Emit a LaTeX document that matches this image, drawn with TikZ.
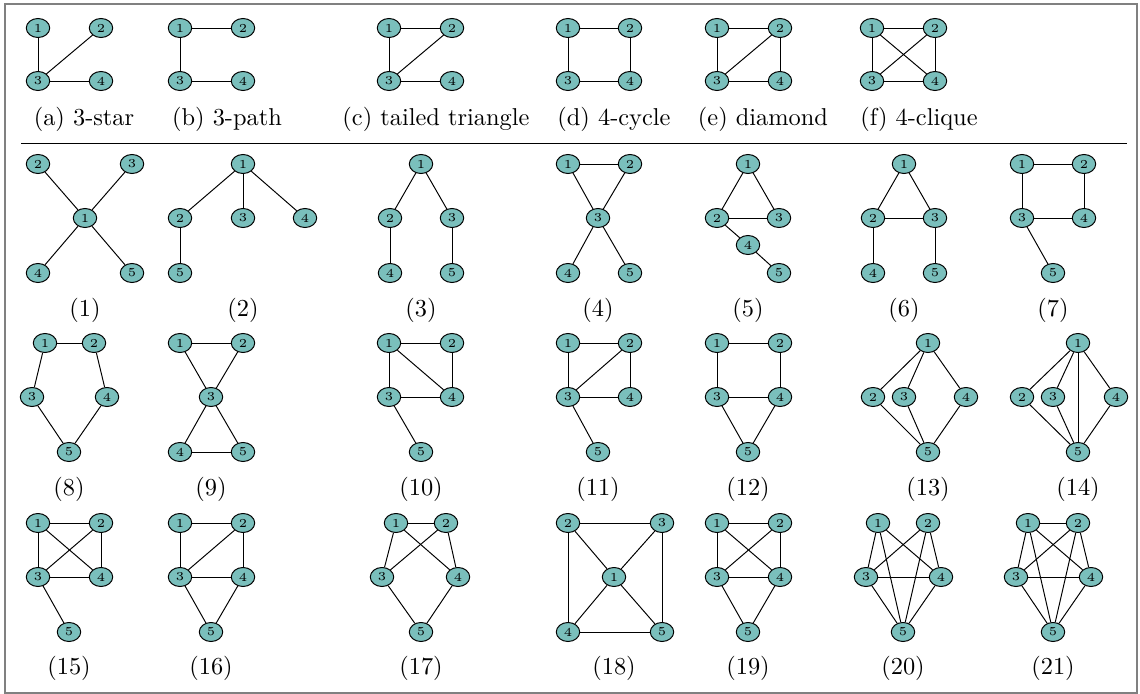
\documentclass[tikz,border=0pt]{standalone}
\usepackage{tikz}
\usetikzlibrary{shapes.geometric}
\definecolor{vteal}{RGB}{122,191,188}
\tikzset{vtx/.style={ellipse,draw,fill=vteal,inner sep=0pt,minimum width=9.6pt,minimum height=7.8pt,font=\tiny},
capt/.style={font=\normalsize}}
\begin{document}
\begin{tikzpicture}[x=0.41pt,y=-0.41pt]
\useasboundingbox (0,0) rectangle (1140,694);
\draw[gray,line width=0.6pt] (5,4) rectangle (1137,693);
\coordinate (ruleL) at (21,143);
\coordinate (ruleR) at (1127,143);
\draw (ruleL) -- (ruleR);
% motifs of size 4
\foreach \n/\x/\y in {1/38/28,2/101/28,3/38/81,4/101/81} \node[vtx] (a\n) at (\x,\y) {\n};
\path (a1) edge (a3) (a2) edge (a3) (a3) edge (a4);
\node[capt] (capa) at (84,119) {(a) 3-star};
\foreach \n/\x/\y in {1/180/28,2/243/28,3/180/81,4/243/81} \node[vtx] (b\n) at (\x,\y) {\n};
\path (b1) edge (b2) (b1) edge (b3) (b3) edge (b4);
\node[capt] (capb) at (227,119) {(b) 3-path};
\foreach \n/\x/\y in {1/389/28,2/452/28,3/389/81,4/452/81} \node[vtx] (c\n) at (\x,\y) {\n};
\path (c1) edge (c2) (c1) edge (c3) (c2) edge (c3) (c3) edge (c4);
\node[capt] (capc) at (436,119) {(c) tailed triangle};
\foreach \n/\x/\y in {1/568/28,2/630/28,3/568/81,4/630/81} \node[vtx] (d\n) at (\x,\y) {\n};
\path (d1) edge (d2) (d1) edge (d3) (d2) edge (d4) (d3) edge (d4);
\node[capt] (capd) at (614,119) {(d) 4-cycle};
\foreach \n/\x/\y in {1/717/28,2/780/28,3/717/81,4/780/81} \node[vtx] (e\n) at (\x,\y) {\n};
\path (e1) edge (e2) (e1) edge (e3) (e2) edge (e3) (e2) edge (e4) (e3) edge (e4);
\node[capt] (cape) at (763,119) {(e) diamond};
\foreach \n/\x/\y in {1/872/28,2/935/28,3/872/81,4/935/81} \node[vtx] (f\n) at (\x,\y) {\n};
\path (f1) edge (f2) (f1) edge (f3) (f1) edge (f4) (f2) edge (f3) (f2) edge (f4) (f3) edge (f4);
\node[capt] (capf) at (919,119) {(f) 4-clique};
% motifs of size 5, first row
\foreach \n/\x/\y in {1/85/218,2/38/164,3/132/164,4/38/273,5/132/273} \node[vtx] (p\n) at (\x,\y) {\n};
\path (p1) edge (p2) (p1) edge (p3) (p1) edge (p4) (p1) edge (p5);
\node[capt] (cap1) at (85,310) {(1)};
\foreach \n/\x/\y in {1/243/164,2/180/218,3/243/218,4/305/218,5/180/273} \node[vtx] (q\n) at (\x,\y) {\n};
\path (q1) edge (q2) (q1) edge (q3) (q1) edge (q4) (q2) edge (q5);
\node[capt] (cap2) at (243,310) {(2)};
\foreach \n/\x/\y in {1/421/164,2/390/218,3/452/218,4/390/273,5/452/273} \node[vtx] (r\n) at (\x,\y) {\n};
\path (r1) edge (r2) (r1) edge (r3) (r2) edge (r4) (r3) edge (r5);
\node[capt] (cap3) at (421,310) {(3)};
\foreach \n/\x/\y in {1/568/164,2/630/164,3/598/218,4/568/273,5/630/273} \node[vtx] (s\n) at (\x,\y) {\n};
\path (s1) edge (s2) (s1) edge (s3) (s2) edge (s3) (s3) edge (s4) (s3) edge (s5);
\node[capt] (cap4) at (598,310) {(4)};
\foreach \n/\x/\y in {1/748/164,2/717/218,3/779/218,4/748/245,5/779/273} \node[vtx] (t\n) at (\x,\y) {\n};
\path (t1) edge (t2) (t1) edge (t3) (t2) edge (t3) (t2) edge (t4) (t4) edge (t5);
\node[capt] (cap5) at (748,310) {(5)};
\foreach \n/\x/\y in {1/904/164,2/873/218,3/935/218,4/873/273,5/935/273} \node[vtx] (u\n) at (\x,\y) {\n};
\path (u1) edge (u2) (u1) edge (u3) (u2) edge (u3) (u2) edge (u4) (u3) edge (u5);
\node[capt] (cap6) at (904,310) {(6)};
\foreach \n/\x/\y in {1/1022/164,2/1084/164,3/1022/218,4/1084/218,5/1053/273} \node[vtx] (w\n) at (\x,\y) {\n};
\path (w1) edge (w2) (w1) edge (w3) (w2) edge (w4) (w3) edge (w4) (w3) edge (w5);
\node[capt] (cap7) at (1053,310) {(7)};
% second row
\foreach \n/\x/\y in {1/45/343,2/94/343,3/32/397,4/107/397,5/69/452} \node[vtx] (h\n) at (\x,\y) {\n};
\path (h1) edge (h2) (h1) edge (h3) (h2) edge (h4) (h3) edge (h5) (h4) edge (h5);
\node[capt] (cap8) at (69,489) {(8)};
\foreach \n/\x/\y in {1/180/343,2/243/343,3/211/397,4/180/452,5/243/452} \node[vtx] (i\n) at (\x,\y) {\n};
\path (i1) edge (i2) (i1) edge (i3) (i2) edge (i3) (i3) edge (i4) (i3) edge (i5) (i4) edge (i5);
\node[capt] (cap9) at (211,489) {(9)};
\foreach \n/\x/\y in {1/389/343,2/452/343,3/389/397,4/452/397,5/421/452} \node[vtx] (j\n) at (\x,\y) {\n};
\path (j1) edge (j2) (j1) edge (j3) (j1) edge (j4) (j2) edge (j4) (j3) edge (j4) (j3) edge (j5);
\node[capt] (cap10) at (421,489) {(10)};
\foreach \n/\x/\y in {1/568/343,2/630/343,3/568/397,4/630/397,5/598/452} \node[vtx] (k\n) at (\x,\y) {\n};
\path (k1) edge (k2) (k1) edge (k3) (k2) edge (k3) (k2) edge (k4) (k3) edge (k4) (k3) edge (k5);
\node[capt] (cap11) at (598,489) {(11)};
\foreach \n/\x/\y in {1/717/343,2/780/343,3/717/397,4/780/397,5/748/452} \node[vtx] (l\n) at (\x,\y) {\n};
\path (l1) edge (l2) (l1) edge (l3) (l2) edge (l4) (l3) edge (l4) (l3) edge (l5) (l4) edge (l5);
\node[capt] (cap12) at (748,489) {(12)};
\foreach \n/\x/\y in {1/928/343,2/873/397,3/904/397,4/966/397,5/928/452} \node[vtx] (m\n) at (\x,\y) {\n};
\path (m1) edge (m2) (m1) edge (m3) (m1) edge (m4) (m2) edge (m5) (m3) edge (m5) (m4) edge (m5);
\node[capt] (cap13) at (928,489) {(13)};
\foreach \n/\x/\y in {1/1078/343,2/1022/397,3/1053/397,4/1116/397,5/1078/452} \node[vtx] (n\n) at (\x,\y) {\n};
\path (n1) edge (n2) (n1) edge (n3) (n1) edge (n4) (n1) edge (n5) (n2) edge (n5) (n3) edge (n5) (n4) edge (n5);
\node[capt] (cap14) at (1078,489) {(14)};
% third row
\foreach \n/\x/\y in {1/38/523,2/101/523,3/38/577,4/101/577,5/69/632} \node[vtx] (o\n) at (\x,\y) {\n};
\path (o1) edge (o2) (o1) edge (o3) (o1) edge (o4) (o2) edge (o3) (o2) edge (o4) (o3) edge (o4) (o3) edge (o5);
\node[capt] (cap15) at (69,668) {(15)};
\foreach \n/\x/\y in {1/180/523,2/243/523,3/180/577,4/243/577,5/211/632} \node[vtx] (x\n) at (\x,\y) {\n};
\path (x1) edge (x2) (x1) edge (x3) (x2) edge (x3) (x2) edge (x4) (x3) edge (x4) (x3) edge (x5) (x4) edge (x5);
\node[capt] (cap16) at (211,668) {(16)};
\foreach \n/\x/\y in {1/396/523,2/446/523,3/382/577,4/458/577,5/421/632} \node[vtx] (y\n) at (\x,\y) {\n};
\path (y1) edge (y2) (y1) edge (y3) (y1) edge (y4) (y2) edge (y3) (y2) edge (y4) (y3) edge (y5) (y4) edge (y5);
\node[capt] (cap17) at (421,668) {(17)};
\foreach \n/\x/\y in {1/614/577,2/568/523,3/662/523,4/568/632,5/662/632} \node[vtx] (z\n) at (\x,\y) {\n};
\path (z2) edge (z3) (z2) edge (z4) (z3) edge (z5) (z4) edge (z5) (z1) edge (z2) (z1) edge (z3) (z1) edge (z4) (z1) edge (z5);
\node[capt] (cap18) at (614,668) {(18)};
\foreach \n/\x/\y in {1/717/523,2/780/523,3/717/577,4/780/577,5/748/632} \node[vtx] (A\n) at (\x,\y) {\n};
\path (A1) edge (A2) (A1) edge (A3) (A1) edge (A4) (A2) edge (A3) (A2) edge (A4) (A3) edge (A4) (A3) edge (A5) (A4) edge (A5);
\node[capt] (cap19) at (748,668) {(19)};
\foreach \n/\x/\y in {1/878/523,2/928/523,3/866/577,4/941/577,5/903/632} \node[vtx] (B\n) at (\x,\y) {\n};
\path (B1) edge (B3) (B1) edge (B4) (B1) edge (B5) (B2) edge (B3) (B2) edge (B4) (B2) edge (B5) (B3) edge (B4) (B3) edge (B5) (B4) edge (B5);
\node[capt] (cap20) at (903,668) {(20)};
\foreach \n/\x/\y in {1/1028/523,2/1078/523,3/1016/577,4/1091/577,5/1053/632} \node[vtx] (C\n) at (\x,\y) {\n};
\path (C1) edge (C2) (C1) edge (C3) (C1) edge (C4) (C1) edge (C5) (C2) edge (C3) (C2) edge (C4) (C2) edge (C5) (C3) edge (C4) (C3) edge (C5) (C4) edge (C5);
\node[capt] (cap21) at (1053,668) {(21)};
\end{tikzpicture}
\end{document}
